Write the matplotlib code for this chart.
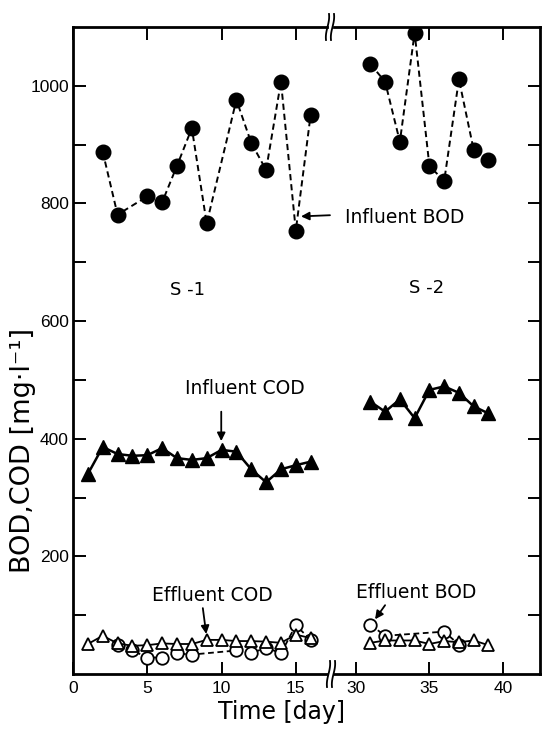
import matplotlib
matplotlib.use('Agg')
import matplotlib.pyplot as plt
from matplotlib.lines import Line2D
import numpy as np

plt.rcParams['font.family'] = ['DejaVu Sans']

# ---- data: S-1 (left segment) ----
s1_inf_bod_days = [2, 3, 5, 6, 7, 8, 9, 11, 12, 13, 14, 15, 16]
s1_inf_bod = [888, 781, 812, 802, 864, 928, 766, 976, 903, 857, 1007, 754, 951]
s1_inf_cod_days = list(range(1, 17))
s1_inf_cod = [340, 386, 374, 371, 372, 384, 367, 364, 367, 381, 378, 348, 326, 348, 355, 361]
s1_eff_cod_days = list(range(1, 17))
s1_eff_cod = [51, 65, 52, 48, 49, 52, 51, 51, 58, 58, 56, 56, 55, 53, 67, 61]
s1_eff_bod_days = [3, 4, 5, 6, 7, 8, 11, 12, 13, 14, 15, 16]
s1_eff_bod = [50, 40, 28, 28, 35, 33, 40, 35, 45, 35, 83, 58]

# ---- data: S-2 (right segment) ----
s2_inf_bod_days = list(range(31, 40))
s2_inf_bod = [1037, 1007, 905, 1090, 864, 838, 1011, 891, 874]
s2_inf_cod_days = list(range(31, 40))
s2_inf_cod = [463, 446, 467, 435, 483, 489, 478, 455, 443]
s2_eff_cod_days = list(range(31, 40))
s2_eff_cod = [53, 57, 57, 57, 51, 56, 54, 57, 49]
s2_eff_bod_days = [31, 32, 36, 37]
s2_eff_bod = [84, 65, 72, 50]

yticks = [200, 400, 600, 800, 1000]
yminor = [100, 300, 500, 700, 900]
xticks_left = [0, 5, 10, 15]
xticks_right = [30, 35, 40]

W, H = 543, 729
fig = plt.figure(figsize=(W / 100, H / 100), dpi=100)


def box(x0, x1, y0, y1):
    return [x0 / W, 1 - y1 / H, (x1 - x0) / W, (y1 - y0) / H]


ax1 = fig.add_axes(box(73, 327, 27, 674))
ax2 = fig.add_axes(box(334, 540, 27, 674), sharey=ax1)
ax2.patch.set_visible(False)

ax1.set_xlim(0, 17.1)
ax2.set_xlim(28.54, 42.49)
ax1.set_ylim(0, 1100)

dash = (0, (3.2, 2.0))


def draw(ax, ib_d, ib, ic_d, ic, ec_d, ec, eb_d, eb):
    ax.plot(ib_d, ib, color='black', lw=1.4, ls=dash, marker='o', ms=10.5,
            mfc='black', mec='black', zorder=3)
    ax.plot(ic_d, ic, color='black', lw=1.8, ls='-', marker='^', ms=10.5,
            mfc='black', mec='black', zorder=3)
    ax.plot(eb_d, eb, color='black', lw=1.3, ls=dash, marker='o', ms=9,
            mfc='white', mec='black', mew=1.3, zorder=3)
    ax.plot(ec_d, ec, color='black', lw=1.3, ls='-', marker='^', ms=9,
            mfc='white', mec='black', mew=1.3, zorder=4)


draw(ax1, s1_inf_bod_days, s1_inf_bod, s1_inf_cod_days, s1_inf_cod,
     s1_eff_cod_days, s1_eff_cod, s1_eff_bod_days, s1_eff_bod)
draw(ax2, s2_inf_bod_days, s2_inf_bod, s2_inf_cod_days, s2_inf_cod,
     s2_eff_cod_days, s2_eff_cod, s2_eff_bod_days, s2_eff_bod)

for ax in (ax1, ax2):
    for s in ax.spines.values():
        s.set_linewidth(2.0)
ax1.spines['right'].set_visible(False)
ax2.spines['left'].set_visible(False)

tick_kw = dict(direction='in', length=9, width=1.4, labelsize=12.5, colors='black')
ax1.set_yticks(yticks)
ax1.set_yticks(yminor, minor=True)
ax1.set_yticklabels([str(v) for v in yticks], family='Liberation Sans')
ax1.set_xticks(xticks_left)
ax1.set_xticklabels([str(v) for v in xticks_left], family='Liberation Sans')
ax2.set_xticks(xticks_right)
ax2.set_xticklabels([str(v) for v in xticks_right], family='Liberation Sans')

ax1.tick_params(axis='y', which='both', left=True, right=False, pad=3, **tick_kw)
ax1.tick_params(axis='x', which='both', bottom=True, top=True, pad=5, **tick_kw)
ax2.tick_params(axis='y', which='both', left=False, right=True, labelleft=False,
                labelright=False, **tick_kw)
ax2.tick_params(axis='x', which='both', bottom=True, top=True, pad=5, **tick_kw)

# ---- annotations ----
fs = 13.5
arw = dict(arrowstyle='-|>', color='black', lw=1.3, mutation_scale=12,
           shrinkA=0, shrinkB=0)
ax1.annotate('', xy=(15.35, 778), xytext=(17.3, 780), arrowprops=arw,
             annotation_clip=False)
ax1.text(18.3, 776, 'Influent BOD', fontsize=fs, ha='left', va='center',
         clip_on=False, zorder=10)
ax1.text(7.7, 653, 'S -1', fontsize=13, ha='center', va='center')
ax2.text(34.8, 656, 'S -2', fontsize=13, ha='center', va='center')
ax1.text(11.6, 486, 'Influent COD', fontsize=fs, ha='center', va='center')
ax1.annotate('', xy=(9.98, 396), xytext=(9.98, 446), arrowprops=arw)
ax1.text(9.4, 134, 'Effluent COD', fontsize=fs, ha='center', va='center')
ax1.annotate('', xy=(8.97, 68), xytext=(8.74, 112), arrowprops=arw)
ax2.text(34.1, 139, 'Effluent BOD', fontsize=fs, ha='center', va='center')
ax2.annotate('', xy=(31.32, 93), xytext=(32.0, 117), arrowprops=arw)

# ---- axis labels ----
fig.text(282 / W, 1 - 712 / H, 'Time [day]', fontsize=17, ha='center', va='center')
fig.text(23 / W, 1 - 450 / H, 'BOD,COD [mg·l⁻¹]', fontsize=19.5, ha='center',
         va='center', rotation=90)

# ---- axis break marks ----
def brk(xc, yc):
    t = np.linspace(-1, 1, 40)
    for dx in (-2.5, 2.5):
        xs = xc + dx - 3.0 * np.sin(t * np.pi * 0.5) + 1.5 * t
        ys = yc + 13 * t
        fig.add_artist(Line2D(xs / W, 1 - ys / H, transform=fig.transFigure,
                              color='black', lw=1.3))


brk(330, 27)
brk(331, 674)

fig.savefig('out.png', dpi=100)
